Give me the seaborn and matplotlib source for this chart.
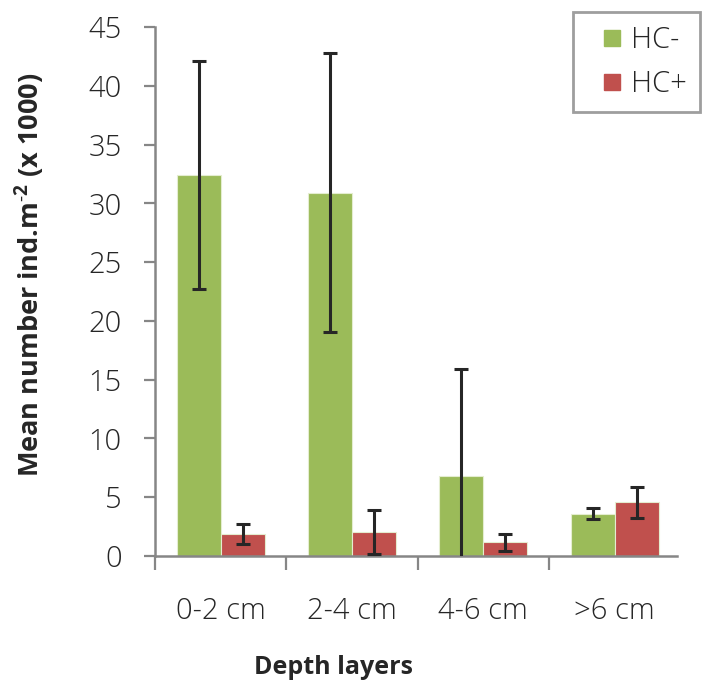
import numpy as np
import pandas as pd
import matplotlib
matplotlib.use("Agg")
import matplotlib.pyplot as plt
from matplotlib.lines import Line2D
import seaborn as sns

# ---- data ----
layers = ["0-2 cm", "2-4 cm", "4-6 cm", ">6 cm"]
groups = ["HC-", "HC+"]
hc_minus = [32.4, 30.9, 6.8, 3.6]
hc_minus_err = [9.7, 11.85, 9.1, 0.45]
hc_plus = [1.85, 2.05, 1.15, 4.55]
hc_plus_err = [0.85, 1.85, 0.7, 1.3]

colors = {"HC-": "#9BBB59", "HC+": "#C0504D"}
grey = "#868686"

df = pd.DataFrame({
    "layer": layers * 2,
    "group": ["HC-"] * 4 + ["HC+"] * 4,
    "mean": hc_minus + hc_plus,
    "err": hc_minus_err + hc_plus_err,
})

sns.set_style("white")
plt.rcParams["font.family"] = ["Open Sans", "DejaVu Sans"]
plt.rcParams["mathtext.fontset"] = "custom"
plt.rcParams["mathtext.bf"] = "Open Sans:bold"
plt.rcParams["mathtext.rm"] = "Open Sans"

fig = plt.figure(figsize=(7.02, 6.83), dpi=100)
ax = fig.add_axes([0.2208, 0.186, 0.7436, 0.7745])

sns.barplot(data=df, x="layer", y="mean", hue="group", order=layers,
            hue_order=groups, palette=colors, width=0.67, errorbar=None,
            edgecolor="#E4EDD0", linewidth=0.8, saturation=1, ax=ax)

# error bars on top of each bar, positions taken from the drawn patches
for cont, g in zip(ax.containers, groups):
    sub = df[df["group"] == g].set_index("layer").loc[layers]
    xs = [p.get_x() + p.get_width() / 2 for p in cont.patches]
    ax.errorbar(xs, sub["mean"], yerr=sub["err"], fmt="none",
                ecolor="#262626", elinewidth=2.2, capsize=5, capthick=2.2,
                zorder=5)

ax.set_ylim(0, 45)
ax.set_xlim(-0.5, 3.475)
ax.set_yticks(np.arange(0, 46, 5))
ax.set_xticks(np.arange(-0.5, 3, 1.0), minor=True)

for s in ["top", "right"]:
    ax.spines[s].set_visible(False)
for s in ["left", "bottom"]:
    ax.spines[s].set_color(grey)
    ax.spines[s].set_linewidth(1.8)

ax.tick_params(axis="y", which="major", left=True, length=8, width=1.6,
               color=grey, labelsize=21, pad=16)
ax.tick_params(axis="x", which="major", bottom=False, labelsize=21, pad=26)
ax.tick_params(axis="x", which="minor", bottom=True, length=10, width=1.6,
               color=grey)
for lab in ax.get_xticklabels() + ax.get_yticklabels():
    lab.set_fontweight("light")

ax.set_xlabel("")
fig.text(333 / 702, 1 - 667 / 683, "Depth layers", fontsize=18,
         fontweight="bold", ha="center", va="center")
ax.set_ylabel("Mean number ind.m$^{\\mathbf{\\text{-}2}}$ (x 1000)",
              fontsize=19.5, fontweight="bold")
ax.yaxis.set_label_coords(47 / 702, 1 - 275 / 683, transform=fig.transFigure)

# legend with square markers, like the spreadsheet legend
ax.get_legend().remove()
handles = [Line2D([], [], linestyle="none", marker="s", markersize=11.5,
                  markerfacecolor=colors[g], markeredgecolor=colors[g])
           for g in groups]
leg = fig.legend(handles, groups, loc="upper right",
                 bbox_to_anchor=(0.997, 0.982),
                 fontsize=21, frameon=True, fancybox=False, shadow=False,
                 handlelength=1.75, handletextpad=-0.22,
                 borderpad=0.45, labelspacing=0.5, borderaxespad=0)
leg.get_frame().set_edgecolor(grey)
leg.get_frame().set_linewidth(2)
for t in leg.get_texts():
    t.set_fontweight("light")

fig.savefig("out.png", dpi=100)
